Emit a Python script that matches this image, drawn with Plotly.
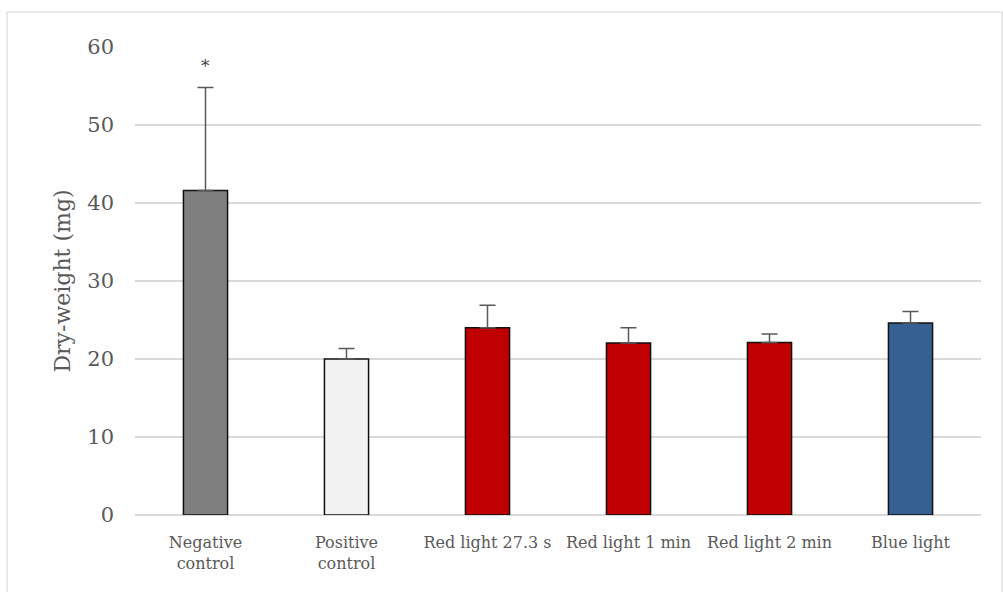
import plotly.graph_objects as go

categories = ["Negative<br>control", "Positive<br>control", "Red light 27.3 s",
              "Red light 1 min", "Red light 2 min", "Blue light"]
values = [41.6, 20.0, 24.0, 22.05, 22.1, 24.6]
errors = [13.2, 1.35, 2.9, 1.95, 1.1, 1.5]
colors = ["#7f7f7f", "#f2f2f2", "#c00000", "#c00000", "#c00000", "#376092"]
y_ticks = [0, 10, 20, 30, 40, 50, 60]

fig = go.Figure()
fig.add_trace(go.Bar(
    x=categories, y=values,
    marker=dict(color=colors, line=dict(color="#111111", width=1.5)),
    error_y=dict(type="data", array=errors, visible=True, symmetric=False,
                 arrayminus=[0]*len(errors),
                 color="#595959", thickness=1.5, width=8),
    showlegend=False,
))

fig.add_annotation(x=categories[0], y=57.6, text="*", showarrow=False,
                   font=dict(family="DejaVu Serif", size=17, color="#404040"))

fig.add_shape(type="rect", xref="paper", yref="paper",
              x0=-0.1513, x1=1.0248, y0=-0.2, y1=1.0748,
              line=dict(color="#d9d9d9", width=1.2), fillcolor="rgba(0,0,0,0)",
              layer="below")

fig.update_layout(
    width=1003, height=592,
    margin=dict(l=135, r=22, t=47, b=77),
    paper_bgcolor="white", plot_bgcolor="white",
    bargap=0.687,
    font=dict(family="DejaVu Serif", color="#595959"),
    xaxis=dict(showgrid=False, showline=False, ticks="",
               tickfont=dict(size=16, color="#595959"),
               ticklabelstandoff=16),
    yaxis=dict(range=[0, 60], tickvals=y_ticks, showgrid=True,
               gridcolor="#d9d9d9", gridwidth=1.5,
               zeroline=True, zerolinecolor="#d9d9d9", zerolinewidth=1.5,
               showline=False, ticks="",
               tickfont=dict(size=21, color="#595959"),
               ticklabelstandoff=20,
               title=dict(text="Dry-weight (mg)", font=dict(size=22, color="#595959"),
                          standoff=10)),
)

fig.write_html("out.html", config={"displayModeBar": False},
               post_script="document.body.style.margin='0';document.body.style.padding='0';")
